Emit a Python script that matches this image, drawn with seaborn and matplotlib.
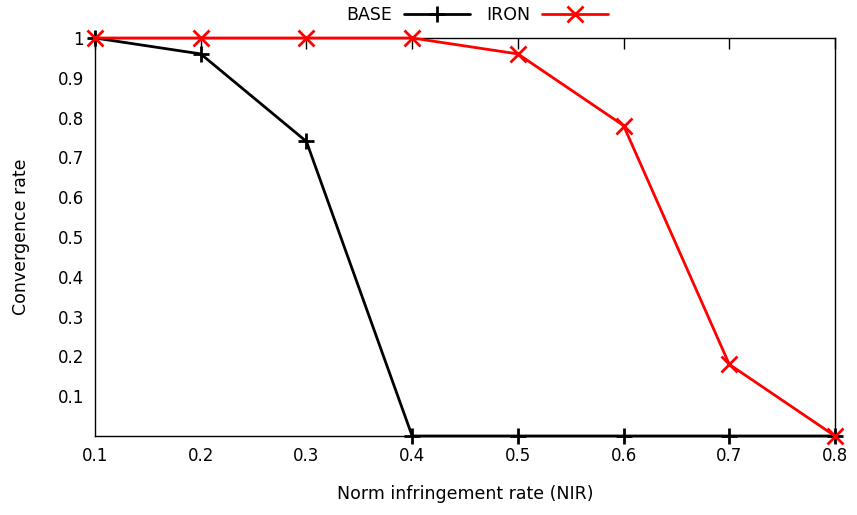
import matplotlib
matplotlib.use("Agg")
import matplotlib.pyplot as plt
from matplotlib.lines import Line2D
import seaborn as sns
import pandas as pd

nir = [0.1, 0.2, 0.3, 0.4, 0.5, 0.6, 0.7, 0.8]
base = [1.0, 0.96, 0.74, 0.0, 0.0, 0.0, 0.0, 0.0]
iron = [1.0, 1.0, 1.0, 1.0, 0.96, 0.78, 0.18, 0.0]
x_ticks = [0.1, 0.2, 0.3, 0.4, 0.5, 0.6, 0.7, 0.8]
y_ticks = [0.1, 0.2, 0.3, 0.4, 0.5, 0.6, 0.7, 0.8, 0.9, 1.0]

sns.set_theme(style="white")
plt.rcParams["font.family"] = ["DejaVu Sans"]
plt.rcParams["text.color"] = "black"
plt.rcParams["axes.labelcolor"] = "black"

colors = {"BASE": "black", "IRON": "#ff0000"}
df = pd.DataFrame({
    "NIR": nir * 2,
    "rate": base + iron,
    "method": ["BASE"] * len(nir) + ["IRON"] * len(nir),
})

fig = plt.figure(figsize=(8.57, 5.15), dpi=100)
ax = fig.add_axes([95 / 857, 1 - 436 / 515, 740 / 857, 398 / 515])

sns.lineplot(data=df, x="NIR", y="rate", hue="method", style="method",
             palette=colors, markers={"BASE": "+", "IRON": "x"}, dashes=False,
             markersize=12, markeredgewidth=2, linewidth=2,
             ax=ax, legend=False)

# line markers need their edge colour to match the series
for ln, name in zip(ax.lines, ["BASE", "IRON"]):
    ln.set_markeredgecolor(colors[name])
    ln.set_clip_on(False)
    ln.set_zorder(5 if name == "IRON" else 4)

ax.set_xlim(0.1, 0.8)
ax.set_ylim(0, 1)
ax.set_xticks(x_ticks)
ax.set_xticklabels([f"{v:g}" for v in x_ticks])
ax.set_yticks(y_ticks)
ax.set_yticklabels([f"{v:g}" for v in y_ticks])
ax.tick_params(direction="in", length=8, width=1, colors="black",
               top=True, right=False, labelsize=12, pad=8)
for s in ax.spines.values():
    s.set_color("black")
    s.set_linewidth(1)
ax.set_xlabel("Norm infringement rate (NIR)", fontsize=12.5, labelpad=14)
ax.set_ylabel("Convergence rate", fontsize=12.5, labelpad=20)

handles = [
    Line2D([], [], color="black", marker="+", markersize=12, markeredgewidth=2, linewidth=2),
    Line2D([], [], color="#ff0000", marker="x", markersize=12, markeredgewidth=2, linewidth=2),
]
fig.legend(handles, ["BASE", "IRON"], loc="upper center", bbox_to_anchor=(0.557, 1.018),
           ncol=2, frameon=False, markerfirst=False, fontsize=12.5,
           handlelength=3.8, columnspacing=0.9, handletextpad=0.7)

fig.savefig("out.png", dpi=100)
